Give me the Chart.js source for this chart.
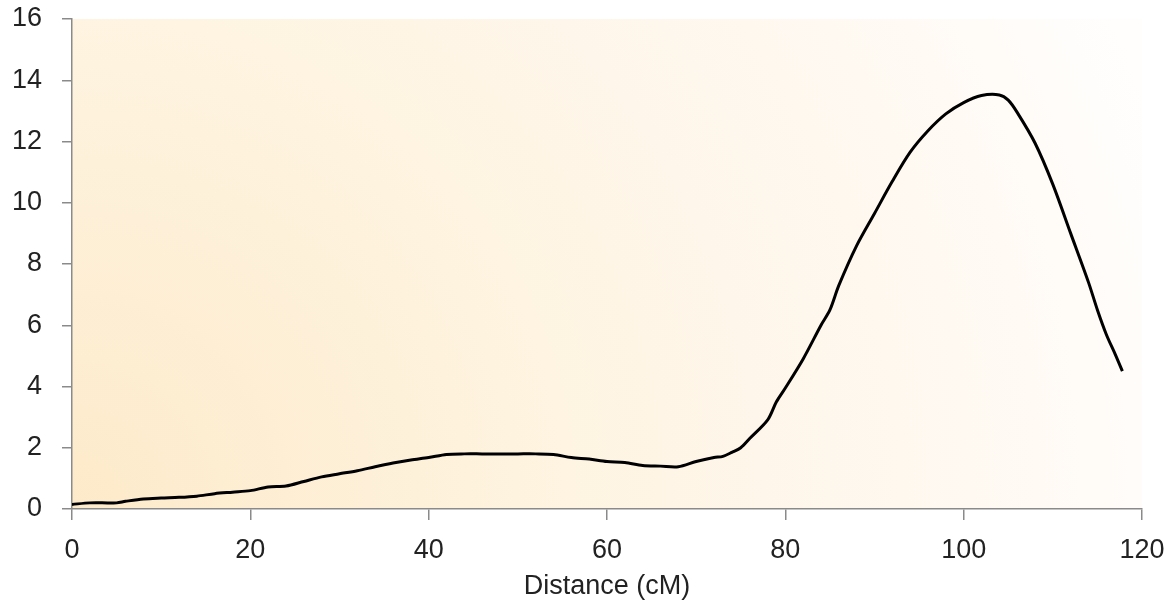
<!DOCTYPE html>
<html>
<head>
<meta charset="utf-8">
<script src="https://cdn.jsdelivr.net/npm/chart.js@4/dist/chart.umd.min.js"></script>
<style>
  html, body { margin: 0; padding: 0; background: #ffffff; }
  #wrap { width: 1172px; height: 607px; position: relative; }
</style>
</head>
<body>
<div id="wrap"><canvas id="c" width="1172" height="607"></canvas></div>
<script>
// Distance (cM)
const distance = [0, 2, 4, 5, 6, 8, 10, 12, 14, 16, 18, 20, 22, 24, 26, 28, 30, 32, 34, 36, 38, 40, 42, 44, 46, 48, 50, 52, 54, 56, 58, 60, 62, 64, 66, 68, 70, 72, 73, 74, 75, 76, 78, 79, 80, 82, 84, 85, 86, 88, 90, 92, 94, 96, 98, 100, 102, 104, 105, 106, 108, 110, 112, 114, 115, 116, 117, 117.8];
// Score values
const score = [0.15, 0.2, 0.2, 0.2, 0.25, 0.33, 0.36, 0.38, 0.42, 0.5, 0.55, 0.6, 0.72, 0.75, 0.9, 1.05, 1.15, 1.25, 1.38, 1.5, 1.6, 1.68, 1.78, 1.8, 1.8, 1.8, 1.8, 1.8, 1.78, 1.68, 1.63, 1.55, 1.52, 1.42, 1.4, 1.38, 1.55, 1.68, 1.72, 1.85, 2.0, 2.3, 2.9, 3.5, 3.95, 4.9, 6.0, 6.5, 7.3, 8.6, 9.65, 10.7, 11.65, 12.35, 12.9, 13.27, 13.5, 13.52, 13.35, 12.95, 11.95, 10.6, 9.0, 7.4, 6.5, 5.7, 5.05, 4.5];
const xTicks = [0, 20, 40, 60, 80, 100, 120];
const yTicks = [0, 2, 4, 6, 8, 10, 12, 14, 16];
const xTitle = 'Distance (cM)';

const points = distance.map((d, i) => ({ x: d, y: score[i] }));

const bgPlugin = {
  id: 'bg',
  beforeDraw(chart) {
    const { ctx, chartArea: a } = chart;
    ctx.save();
    const g = ctx.createRadialGradient(a.left, a.bottom, 0, a.left, a.bottom, 1150);
    g.addColorStop(0, '#fdeaca');
    g.addColorStop(0.43, '#fef4e1');
    g.addColorStop(0.6, '#fef6ea');
    g.addColorStop(0.84, '#fffaf4');
    g.addColorStop(0.92, '#fffcf9');
    g.addColorStop(1, '#fffefd');
    ctx.fillStyle = g;
    ctx.fillRect(a.left, a.top, a.right - a.left, a.bottom - a.top);
    ctx.restore();
  }
};

const font = { family: '"Liberation Sans", Arial, sans-serif', size: 27 };

new Chart(document.getElementById('c'), {
  type: 'line',
  data: {
    datasets: [{
      data: points,
      borderColor: '#000000',
      borderWidth: 3,
      pointRadius: 0,
      tension: 0.3,
      fill: false
    }]
  },
  options: {
    responsive: false,
    animation: false,
    layout: { padding: { top: 19, right: 30, left: 0, bottom: 0 } },
    plugins: { legend: { display: false }, tooltip: { enabled: false } },
    scales: {
      x: {
        type: 'linear',
        min: 0, max: 120,
        afterBuildTicks(s) { s.ticks = xTicks.map(v => ({ value: v })); },
        afterFit(s) { s.height = 98; s.paddingLeft = 0; s.paddingRight = 0; },
        border: { color: '#8a8a8a', width: 1.5 },
        grid: { drawOnChartArea: false, drawTicks: true, tickLength: 11, color: '#8a8a8a', lineWidth: 1.5 },
        ticks: { color: '#222222', font, padding: 14, maxRotation: 0 },
        title: { display: true, text: xTitle, color: '#222222', font, padding: { top: 0, bottom: 4 } }
      },
      y: {
        type: 'linear',
        min: 0, max: 16,
        afterBuildTicks(s) { s.ticks = yTicks.map(v => ({ value: v })); },
        afterFit(s) { s.width = 72; s.paddingTop = 0; s.paddingBottom = 0; },
        border: { color: '#8a8a8a', width: 1.5 },
        grid: { drawOnChartArea: false, drawTicks: true, tickLength: 10, color: '#8a8a8a', lineWidth: 1.5 },
        ticks: { color: '#222222', font, padding: 20 }
      }
    }
  },
  plugins: [bgPlugin]
});
</script>
</body>
</html>
